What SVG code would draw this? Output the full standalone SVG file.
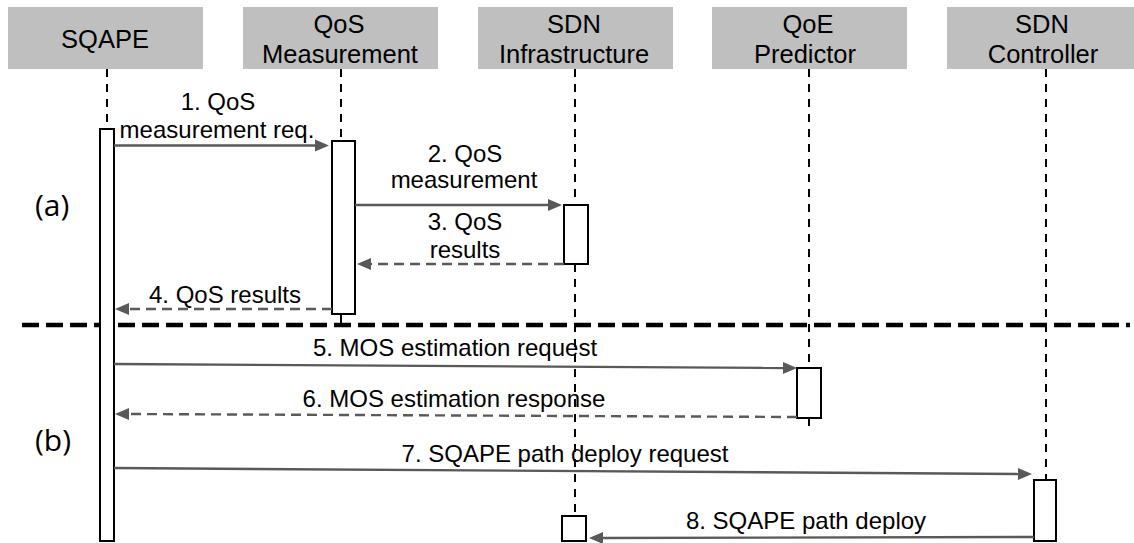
<svg xmlns="http://www.w3.org/2000/svg" width="1134" height="543" viewBox="0 0 1134 543">
  <style>
    .hdr { fill: #bfbfbf; }
    .hdr-t { font-family: "Liberation Sans", Arial, sans-serif; font-size: 25.5px; fill: #000; text-anchor: middle; }
    .lbl { font-family: "Liberation Sans", Arial, sans-serif; font-size: 24px; fill: #000; text-anchor: middle; }
    .sec { font-family: "Open Sans", Lato, sans-serif; font-size: 30px; fill: #000; }
    .life { stroke: #000; stroke-width: 2; stroke-dasharray: 8 7; fill: none; }
    .act { fill: #fff; stroke: #000; stroke-width: 2; }
    .msg { stroke: #595959; stroke-width: 2.4; fill: none; marker-end: url(#head); }
    .ret { stroke: #595959; stroke-width: 2.4; fill: none; stroke-dasharray: 10 6; marker-end: url(#head); }
    .sep { stroke: #000; stroke-width: 4.5; stroke-dasharray: 17 7; fill: none; }
  </style>
  <defs>
    <marker id="head" markerUnits="userSpaceOnUse" markerWidth="14" markerHeight="12" refX="2" refY="6" orient="auto" overflow="visible">
      <path d="M0,0 L14,6 L0,12 Z" fill="#595959" stroke="none"/>
    </marker>
  </defs>

  <!-- phase separator -->
  <line class="sep" x1="22" y1="325" x2="1130" y2="325"/>

  <!-- phase labels -->
  <text class="sec" x="35" y="216">(a)</text>
  <text class="sec" x="35" y="451">(b)</text>

  <g id="sqape">
    <rect class="hdr" x="8" y="7" width="195" height="62"/>
    <text class="hdr-t" x="105" y="48">SQAPE</text>
    <line class="life" x1="107" y1="69" x2="107" y2="129"/>
    <rect class="act" x="100" y="129" width="14" height="412"/>
  </g>

  <g id="qos-measurement">
    <rect class="hdr" x="243" y="7" width="195" height="62"/>
    <text class="hdr-t" x="339" y="33">QoS</text>
    <text class="hdr-t" x="340" y="63">Measurement</text>
    <line class="life" x1="341" y1="69" x2="341" y2="141"/>
    <line x1="341" y1="314" x2="341" y2="325" stroke="#000" stroke-width="2"/>
    <rect class="act" x="332" y="141" width="23" height="173"/>
  </g>

  <g id="sdn-infrastructure">
    <rect class="hdr" x="478" y="7" width="195" height="62"/>
    <text class="hdr-t" x="574" y="33">SDN</text>
    <text class="hdr-t" x="574" y="63">Infrastructure</text>
    <line class="life" x1="575" y1="69" x2="575" y2="205"/>
    <line class="life" x1="575" y1="264" x2="575" y2="516"/>
    <rect class="act" x="564" y="205" width="24" height="59"/>
    <rect class="act" x="562" y="516" width="24" height="25"/>
  </g>

  <g id="qoe-predictor">
    <rect class="hdr" x="712" y="7" width="195" height="62"/>
    <text class="hdr-t" x="808" y="33">QoE</text>
    <text class="hdr-t" x="805" y="63">Predictor</text>
    <line class="life" x1="809" y1="69" x2="809" y2="368"/>
    <line class="life" x1="809" y1="418" x2="809" y2="430"/>
    <rect class="act" x="797" y="368" width="24" height="50"/>
  </g>

  <g id="sdn-controller">
    <rect class="hdr" x="947" y="7" width="195" height="62"/>
    <text class="hdr-t" x="1042" y="33">SDN</text>
    <text class="hdr-t" x="1043" y="63">Controller</text>
    <line class="life" x1="1046" y1="69" x2="1046" y2="480"/>
    <rect class="act" x="1034" y="480" width="22" height="61"/>
  </g>

  <g id="messages">
    <line class="msg" x1="114" y1="145.5" x2="317" y2="145.5"/>
    <text class="lbl" x="218" y="110">1. QoS</text>
    <text class="lbl" x="217" y="138">measurement req.</text>

    <line class="msg" x1="355" y1="205" x2="550" y2="205"/>
    <text class="lbl" x="465" y="162">2. QoS</text>
    <text class="lbl" x="464" y="188">measurement</text>

    <line class="ret" x1="564" y1="264" x2="369" y2="264"/>
    <text class="lbl" x="465" y="230">3. QoS</text>
    <text class="lbl" x="465" y="258">results</text>

    <line class="ret" x1="332" y1="309" x2="127" y2="309"/>
    <text class="lbl" x="225" y="303">4. QoS results</text>

    <line class="msg" x1="114" y1="364" x2="785" y2="368"/>
    <text class="lbl" x="455" y="356">5. MOS estimation request</text>

    <line class="ret" x1="797" y1="417" x2="127" y2="414"/>
    <text class="lbl" x="454" y="407">6. MOS estimation response</text>

    <line class="msg" x1="114" y1="468" x2="1020" y2="474"/>
    <text class="lbl" x="565" y="462">7. SQAPE path deploy request</text>

    <line class="msg" x1="1034" y1="537" x2="601" y2="538"/>
    <text class="lbl" x="806" y="529">8. SQAPE path deploy</text>
  </g>
</svg>
